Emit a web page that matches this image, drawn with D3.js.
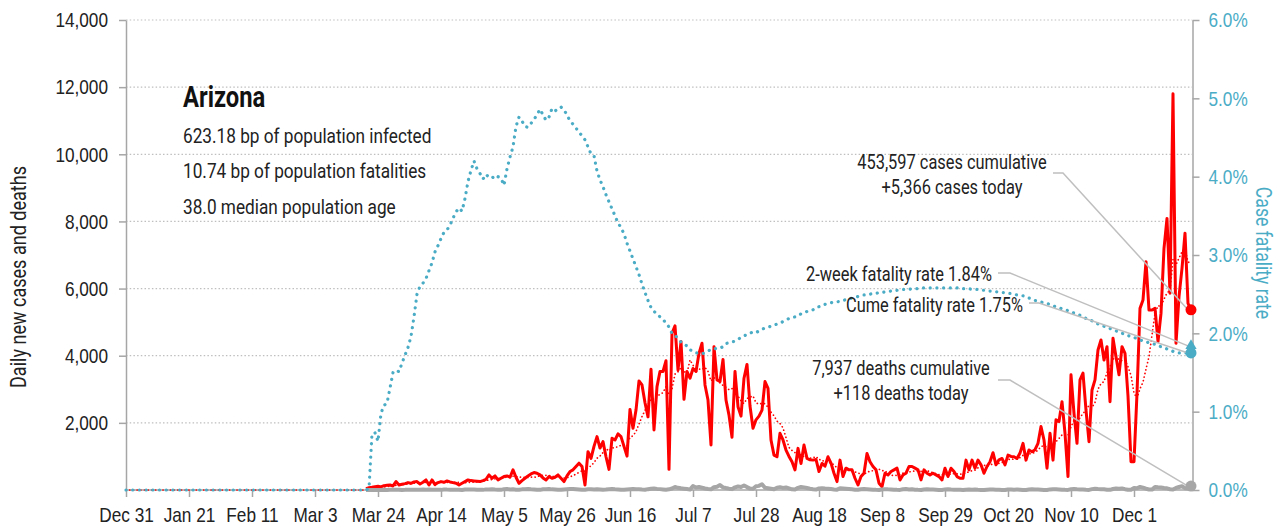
<!doctype html>
<html lang="en">
<head>
<meta charset="utf-8">
<title>Arizona - daily new cases and deaths</title>
<script src="https://cdn.jsdelivr.net/npm/d3@7"></script>
<style>
  body { margin: 0; background: #fff; }
  svg { display: block; font-family: Roboto, "Liberation Sans", sans-serif; }
  .grid line { stroke: #bfbfbf; stroke-width: 1.2; stroke-dasharray: 1.5 2.2; }
  .axis path, .axis line { stroke: #a6a6a6; stroke-width: 1.5; }
  .axis text { font-size: 21px; fill: #222; }
  .axis.right text { fill: #4bacc6; }
  .note { font-size: 20px; fill: #222; }
  .leader { fill: none; stroke: #bfbfbf; stroke-width: 1.5; }
</style>
</head>
<body>
<svg id="chart" width="1281" height="529"></svg>
<script>

// ---- data ----
var firstDay = "2019-12-31";     // start of the x axis
var reportStart = 80;            // daily series begin on Mar 20 (day 80)

var xTicks = ["2019-12-31", "2020-01-21", "2020-02-11", "2020-03-03", "2020-03-24",
              "2020-04-14", "2020-05-05", "2020-05-26", "2020-06-16", "2020-07-07",
              "2020-07-28", "2020-08-18", "2020-09-08", "2020-09-29", "2020-10-20",
              "2020-11-10", "2020-12-01"];
var leftTicks = [2000, 4000, 6000, 8000, 10000, 12000, 14000];
var rightTicks = [0, 1, 2, 3, 4, 5, 6];

// daily new cases, Mar 20 .. Dec 20
var cases = [
  40, 70, 80, 100, 110, 90, 130, 140, 150, 120,
  250, 150, 170, 190, 220, 200, 240, 250, 180, 230,
  300, 150, 300, 160, 220, 250, 230, 270, 240, 220,
  200, 150, 200, 250, 300, 280, 270, 260, 250, 280,
  320, 450, 350, 420, 300, 350, 400, 420, 380, 600,
  380, 200, 280, 350, 420, 480, 520, 500, 450, 360,
  300, 400, 350, 380, 450, 350, 250, 420, 550, 600,
  700, 800, 700, 150, 1140, 940, 1300, 1590, 1250, 1440,
  990, 615, 1540, 1490, 1670, 1590, 1300, 1010, 2400, 1840,
  2380, 3250, 3130, 2600, 2180, 3600, 1790, 3080, 3530, 3530,
  3850, 615, 4670, 4890, 3570, 4420, 2700, 3530, 3330, 3620,
  3530, 4070, 4370, 3130, 2680, 1340, 4270, 3280, 3230, 3890,
  2680, 2230, 1570, 3530, 2480, 2200, 3330, 3740, 2500, 1840,
  2090, 2200, 2380, 3230, 3030, 1490, 1040, 990, 1690, 1490,
  1190, 1000, 840, 600, 1240, 790, 1340, 940, 900, 890,
  910, 550, 790, 710, 990, 800, 500, 250, 890, 400,
  650, 600, 600, 350, 150, 400, 500, 1090, 840, 700,
  600, 200, 100, 500, 450, 550, 600, 650, 300, 450,
  500, 700, 700, 650, 600, 300, 600, 500, 450, 500,
  450, 400, 300, 650, 400, 650, 550, 400, 350, 350,
  890, 600, 890, 650, 890, 750, 500, 700, 840, 1110,
  750, 900, 940, 750, 1040, 1000, 990, 940, 1100, 1390,
  890, 1190, 1140, 1200, 1390, 1890, 1490, 650, 1690, 890,
  2090, 2040, 2630, 1690, 400, 3430, 2280, 1390, 3280, 3480,
  2380, 1440, 2980, 3280, 4170, 4470, 3870, 4270, 2630, 4520,
  3970, 3430, 4270, 4070, 2800, 840, 840, 2880, 5410, 5660,
  6800, 5360, 5360, 5410, 4420, 5260, 7200, 8090, 5860, 11800,
  4370, 5760, 6600, 7650, 5560, 5366
];

// daily new deaths, Mar 20 .. Dec 20
var deaths = [
  0, 1, 1, 2, 3, 2, 4, 3, 5, 6, 4, 7,
  3, 5, 9, 7, 10, 6, 4, 12, 9, 14, 8, 11, 6, 4, 15, 12, 11, 10, 7, 5, 3, 16, 13, 15, 14, 9, 6, 4, 18, 15,
  20, 14, 10, 5, 25, 30, 17, 23, 9, 6, 19, 25, 28, 21, 17, 10, 4, 22, 24, 30, 19, 14, 8, 5, 18, 25, 33, 28, 20, 12, 6,
  10, 20, 25, 18, 22, 15, 8, 12, 24, 30, 22, 17, 10, 6, 16, 25, 30, 23, 19, 12, 7, 25, 40, 45, 33, 26, 18, 10, 20, 44,
  88, 65, 50, 40, 28, 12, 117, 75, 90, 69, 45, 30, 20, 83, 97, 147, 79, 58, 40, 26, 80, 104, 89, 134, 86, 42, 36, 110, 123, 172, 68,
  55, 40, 23, 70, 85, 63, 77, 48, 20, 15, 65, 92, 78, 60, 40, 25, 12, 48, 55, 44, 38, 29, 18, 10, 50, 42, 35, 29, 19, 10, 5,
  20, 32, 25, 18, 10, 5, 3, 15, 26, 20, 17, 11, 6, 3, 22, 28, 15, 19, 9, 4, 2, 17, 21, 14, 12, 8, 3, 2, 18, 23,
  12, 10, 8, 4, 1, 9, 15, 11, 13, 7, 3, 1, 10, 14, 12, 9, 6, 2, 0, 13, 16, 11, 14, 8, 3, 1, 14, 19, 15, 12, 8,
  3, 2, 18, 25, 19, 14, 10, 4, 3, 23, 30, 21, 17, 12, 5, 2, 26, 34, 28, 25, 20, 8, 4, 30, 45, 36, 48, 25, 9, 6,
  58, 53, 92, 70, 38, 17, 12, 87, 80, 75, 58, 49, 22, 13, 61, 90, 112, 54, 45, 118
];

// cumulative case fatality rate (%), Mar 20 .. Dec 20; zero before
var cfr = [
  0, 0.02, 0.72, 0.73, 0.62, 0.98, 1.08, 1.11, 1.30, 1.50,
  1.53, 1.51, 1.62, 1.72, 1.82, 1.96, 2.21, 2.50, 2.60, 2.64,
  2.70, 2.80, 2.90, 3.04, 3.12, 3.21, 3.29, 3.32, 3.38, 3.47,
  3.55, 3.60, 3.56, 3.72, 3.94, 4.08, 4.20, 4.10, 4.04, 3.97,
  4.03, 3.99, 4.00, 3.97, 4.00, 3.98, 3.89, 4.10, 4.25, 4.38,
  4.64, 4.76, 4.71, 4.64, 4.63, 4.68, 4.73, 4.79, 4.86, 4.79,
  4.72, 4.76, 4.87, 4.84, 4.86, 4.89, 4.85, 4.79, 4.71, 4.67,
  4.62, 4.57, 4.52, 4.47, 4.38, 4.29, 4.27, 4.07, 3.96, 3.87,
  3.77, 3.68, 3.59, 3.50, 3.41, 3.35, 3.27, 3.15, 3.05, 2.95,
  2.85, 2.75, 2.63, 2.52, 2.42, 2.33, 2.28, 2.25, 2.21, 2.17,
  2.14, 2.08, 2.00, 1.98, 1.93, 1.89, 1.86, 1.84, 1.79, 1.77,
  1.75, 1.75, 1.74, 1.75, 1.77, 1.80, 1.80, 1.81, 1.81, 1.83,
  1.87, 1.88, 1.89, 1.90, 1.92, 1.95, 1.97, 1.98, 2.00, 2.02,
  2.01, 2.03, 2.05, 2.07, 2.08, 2.09, 2.10, 2.12, 2.13, 2.15,
  2.17, 2.19, 2.20, 2.21, 2.22, 2.25, 2.26, 2.28, 2.29, 2.30,
  2.33, 2.34, 2.36, 2.37, 2.38, 2.39, 2.40, 2.40, 2.41, 2.42,
  2.43, 2.44, 2.45, 2.46, 2.47, 2.48, 2.49, 2.49, 2.50, 2.51,
  2.51, 2.52, 2.52, 2.53, 2.53, 2.54, 2.54, 2.55, 2.55, 2.56,
  2.56, 2.56, 2.57, 2.57, 2.57, 2.58, 2.58, 2.58, 2.58, 2.58,
  2.58, 2.58, 2.58, 2.58, 2.58, 2.58, 2.58, 2.58, 2.57, 2.57,
  2.57, 2.57, 2.56, 2.56, 2.56, 2.55, 2.55, 2.55, 2.54, 2.54,
  2.53, 2.53, 2.52, 2.52, 2.51, 2.51, 2.50, 2.49, 2.48, 2.48,
  2.47, 2.45, 2.44, 2.42, 2.41, 2.40, 2.39, 2.38, 2.37, 2.35,
  2.34, 2.33, 2.31, 2.30, 2.29, 2.27, 2.26, 2.25, 2.23, 2.21,
  2.19, 2.17, 2.16, 2.14, 2.12, 2.10, 2.09, 2.08, 2.06, 2.05,
  2.03, 2.02, 2.00, 1.99, 1.97, 1.96, 1.95, 1.93, 1.92, 1.90,
  1.89, 1.88, 1.87, 1.86, 1.84, 1.83, 1.82, 1.80, 1.79, 1.77,
  1.76, 1.75, 1.75, 1.75, 1.75, 1.75
];

var stateName = "Arizona";
var summaryLines = ["623.18 bp of population infected",
                    "10.74 bp of population fatalities",
                    "38.0 median population age"];
var casesCumulative = 453597, casesToday = 5366;
var deathsCumulative = 7937, deathsToday = 118;
var twoWeekRate = 1.84, cumeRate = 1.75;

// ---- setup ----
var svg = d3.select("#chart");
var parse = d3.utcParse("%Y-%m-%d");
var start = parse(firstDay);
var nDays = reportStart + cases.length;
var end = d3.utcDay.offset(start, nDays - 1);
function day(i) { return d3.utcDay.offset(start, i); }

// no condensed face is installed, so squeeze a regular one around its anchor
var squeeze = 0.82;
function condense(sel) {
  sel.each(function() {
    var t = d3.select(this);
    var x0 = +t.attr("x") || 0;
    var tr = t.attr("transform") || "";
    t.attr("transform", tr + " translate(" + x0 + ",0) scale(" + squeeze + ",1) translate(" + (-x0) + ",0)");
  });
}

var x = d3.scaleUtc().domain([start, end]).range([126, 1191]);
var yL = d3.scaleLinear().domain([0, 14000]).range([490, 20]);
var yR = d3.scaleLinear().domain([0, 6]).range([490, 20]);

// gridlines
svg.append("g").attr("class", "grid")
  .selectAll("line").data(leftTicks).enter().append("line")
    .attr("x1", 126).attr("x2", 1192)
    .attr("y1", function(d) { return yL(d); })
    .attr("y2", function(d) { return yL(d); });

// axes
svg.append("g").attr("class", "axis left")
  .attr("transform", "translate(126,0)")
  .call(d3.axisLeft(yL).tickValues(leftTicks).tickFormat(d3.format(","))
    .tickSizeInner(7).tickSizeOuter(0).tickPadding(11));

svg.append("g").attr("class", "axis right")
  .attr("transform", "translate(1192.5,0)")
  .call(d3.axisRight(yR).tickValues(rightTicks).tickFormat(function(d) { return d.toFixed(1) + "%"; })
    .tickSizeInner(7).tickSizeOuter(0).tickPadding(9));

svg.append("g").attr("class", "axis bottom")
  .attr("transform", "translate(0,490)")
  .call(d3.axisBottom(x).tickValues(xTicks.map(parse)).tickFormat(d3.utcFormat("%b %-d"))
    .tickSizeInner(7).tickSizeOuter(0).tickPadding(10));
svg.select(".axis.bottom .domain").attr("d", "M126,0H1192.5");
condense(svg.selectAll(".axis text"));

// axis titles
svg.append("text")
  .attr("transform", "translate(18,277) rotate(-90)")
  .attr("text-anchor", "middle").attr("dominant-baseline", "central")
  .style("font-size", "22px").style("fill", "#222")
  .text("Daily new cases and deaths")
  .call(condense);
svg.append("text")
  .attr("transform", "translate(1263,253) rotate(90)")
  .attr("text-anchor", "middle").attr("dominant-baseline", "central")
  .style("font-size", "21.5px").style("fill", "#4bacc6")
  .text("Case fatality rate")
  .call(condense);

// ---- series ----
var allCases = d3.range(nDays).map(function(i) { return i < reportStart ? 0 : cases[i - reportStart]; });
// 7-day trailing average of the daily cases
var avg7 = allCases.map(function(v, i) { return d3.mean(allCases.slice(Math.max(0, i - 6), i + 1)); });

var daily = cases.map(function(v, i) { return { date: day(i + reportStart), v: v }; });
var dailyDeaths = deaths.map(function(v, i) { return { date: day(i + reportStart), v: v }; });
var avgSeries = avg7.map(function(v, i) { return { date: day(i), v: v }; });
var cfrSeries = [{ date: start, v: 0 }].concat(cfr.map(function(v, i) { return { date: day(i + reportStart), v: v }; }));

var lineL = d3.line().x(function(d) { return x(d.date); }).y(function(d) { return yL(d.v); });
var lineR = d3.line().x(function(d) { return x(d.date); }).y(function(d) { return yR(d.v); });

svg.append("path").datum(daily)
  .attr("d", lineL).attr("fill", "none")
  .attr("stroke", "#ff0000").attr("stroke-width", 3).attr("stroke-linejoin", "round");

svg.append("path").datum(avgSeries)
  .attr("d", lineL).attr("fill", "none")
  .attr("stroke", "#ff0000").attr("stroke-width", 1.7)
  .attr("stroke-linecap", "round").attr("stroke-dasharray", "0.1 3.6");

svg.append("path").datum(dailyDeaths)
  .attr("d", lineL).attr("fill", "none")
  .attr("stroke", "#a6a6a6").attr("stroke-width", 4).attr("stroke-linejoin", "round");

svg.append("path").datum(cfrSeries)
  .attr("d", lineR).attr("fill", "none")
  .attr("stroke", "#4bacc6").attr("stroke-width", 3.2)
  .attr("stroke-linecap", "round").attr("stroke-dasharray", "0.1 6.6");

// ---- title block ----
var title = svg.append("g").attr("transform", "translate(183,0)");
title.append("text").attr("y", 107)
  .style("font-size", "29px").style("font-weight", "bold").style("fill", "#111")
  .text(stateName);
title.selectAll(".summary").data(summaryLines).enter().append("text")
  .attr("class", "summary")
  .attr("y", function(d, i) { return 143 + i * 35.5; })
  .style("font-size", "21px").style("fill", "#222")
  .text(function(d) { return d; });
condense(title.selectAll("text"));

// ---- end markers and call-outs ----
var fmt = d3.format(",");
var endX = x(end);
var pts = {
  cases: [endX, yL(casesToday)],
  twoWeek: [endX, yR(twoWeekRate)],
  cume: [endX, yR(cumeRate)],
  deaths: [endX, yL(deathsToday)]
};

var notes = [
  { lines: [fmt(casesCumulative) + " cases cumulative", "+" + fmt(casesToday) + " cases today"],
    x: 952, y: 169, anchor: "middle", from: [1053, 173], elbow: 1063, to: pts.cases },
  { lines: ["2-week fatality rate " + twoWeekRate.toFixed(2) + "%"],
    x: 992, y: 281, anchor: "end", from: [998, 273], elbow: 1010, to: pts.twoWeek },
  { lines: ["Cume fatality rate " + cumeRate.toFixed(2) + "%"],
    x: 1023, y: 312, anchor: "end", from: [1029, 303], elbow: 1039, to: pts.cume },
  { lines: [fmt(deathsCumulative) + " deaths cumulative", "+" + deathsToday + " deaths today"],
    x: 901, y: 375, anchor: "middle", from: [998, 380], elbow: 1010, to: pts.deaths }
];

notes.forEach(function(n) {
  svg.append("path").attr("class", "leader")
    .attr("d", "M" + n.from[0] + "," + n.from[1] + "H" + n.elbow + "L" + (n.to[0] - 3) + "," + n.to[1]);
  n.lines.forEach(function(t, i) {
    svg.append("text").attr("class", "note")
      .attr("x", n.x).attr("y", n.y + i * 25)
      .attr("text-anchor", n.anchor).text(t)
      .call(condense);
  });
});

svg.append("circle").attr("cx", pts.cases[0]).attr("cy", pts.cases[1]).attr("r", 5.5).attr("fill", "#ff0000");
svg.append("circle").attr("cx", pts.deaths[0]).attr("cy", pts.deaths[1]).attr("r", 5.5).attr("fill", "#a6a6a6");
svg.append("path")
  .attr("transform", "translate(" + pts.twoWeek[0] + "," + pts.twoWeek[1] + ")")
  .attr("d", d3.symbol(d3.symbolTriangle, 55)()).attr("fill", "#4bacc6");
svg.append("circle").attr("cx", pts.cume[0]).attr("cy", pts.cume[1]).attr("r", 5.5).attr("fill", "#4bacc6");

</script>
</body>
</html>
